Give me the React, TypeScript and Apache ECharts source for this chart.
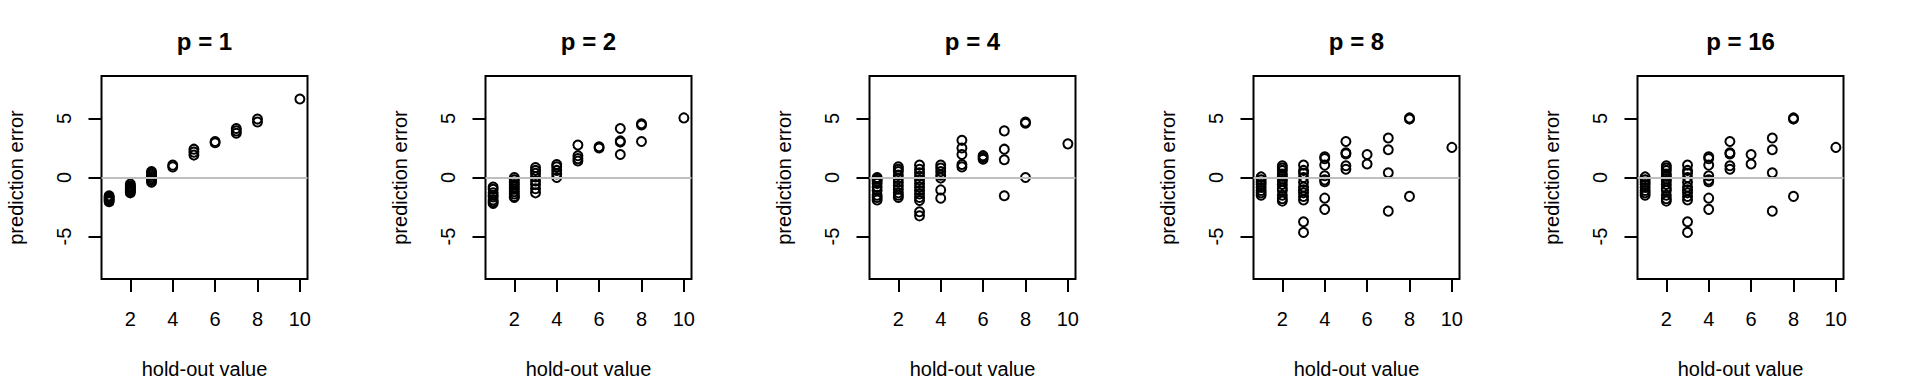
import React, { useEffect, useRef } from "react";
import * as echarts from "echarts";

const panelTitles = ["p = 1", "p = 2", "p = 4", "p = 8", "p = 16"];
const xTicks = [2, 4, 6, 8, 10];
const yTicks = [-5, 0, 5];
const xLabel = "hold-out value";
const yLabel = "prediction error";

// [hold-out value, prediction error]
const p1Points: [number, number][] = [
  [1, -1.55], [1, -1.65], [1, -1.75], [1, -1.85], [1, -1.95], [1, -2.05],
  [2, -0.55], [2, -0.7], [2, -0.8], [2, -0.9], [2, -1.0], [2, -1.1], [2, -1.2], [2, -1.3],
  [3, 0.5], [3, 0.35], [3, 0.2], [3, 0.05], [3, -0.1], [3, -0.25], [3, -0.4],
  [4, 1.05], [4, 0.9],
  [5, 2.4], [5, 2.15], [5, 1.9],
  [6, 3.05], [6, 2.95],
  [7, 4.15], [7, 3.95], [7, 3.75],
  [8, 4.95], [8, 4.7],
  [10, 6.65],
];

const p2Points: [number, number][] = [
  [1, -0.8], [1, -1.0], [1, -1.3], [1, -1.5], [1, -1.65], [1, -1.9], [1, -2.05], [1, -2.2],
  [2, 0.0], [2, -0.2], [2, -0.4], [2, -0.6], [2, -0.8], [2, -1.0], [2, -1.2], [2, -1.4], [2, -1.6], [2, -1.7],
  [3, 0.85], [3, 0.6], [3, 0.35], [3, 0.05], [3, -0.3], [3, -0.6], [3, -0.95], [3, -1.3],
  [4, 1.1], [4, 0.9], [4, 0.6], [4, 0.3], [4, 0.0],
  [5, 2.75], [5, 1.85], [5, 1.6], [5, 1.4],
  [6, 2.6], [6, 2.5],
  [7, 4.15], [7, 3.1], [7, 3.0], [7, 1.95],
  [8, 4.55], [8, 4.45], [8, 3.05],
  [10, 5.05],
];

const p4Points: [number, number][] = [
  [1, 0.0], [1, -0.15], [1, -0.3], [1, -0.5], [1, -0.8], [1, -1.1], [1, -1.5], [1, -1.7], [1, -1.9],
  [2, 0.9], [2, 0.7], [2, 0.5], [2, 0.2], [2, -0.1], [2, -0.4], [2, -0.7], [2, -1.0], [2, -1.3], [2, -1.5], [2, -1.7],
  [3, 1.05], [3, 0.7], [3, 0.4], [3, 0.1], [3, -0.2], [3, -0.5], [3, -0.8], [3, -1.1], [3, -1.4], [3, -1.7], [3, -1.95], [3, -2.9], [3, -3.25],
  [4, 1.05], [4, 0.8], [4, 0.5], [4, 0.2], [4, -0.05], [4, -1.05], [4, -1.75],
  [5, 3.15], [5, 2.5], [5, 1.95], [5, 1.1], [5, 0.9],
  [6, 1.85], [6, 1.7], [6, 1.55],
  [7, 3.95], [7, 2.4], [7, 1.5], [7, -1.55],
  [8, 4.7], [8, 4.6], [8, 0.0],
  [10, 2.85],
];

const p8Points: [number, number][] = [
  [1, 0.05], [1, -0.2], [1, -0.4], [1, -0.6], [1, -0.85], [1, -1.1], [1, -1.3], [1, -1.5],
  [2, 1.0], [2, 0.8], [2, 0.6], [2, 0.3], [2, 0.1], [2, -0.1], [2, -0.3], [2, -0.6], [2, -0.9], [2, -1.1], [2, -1.5], [2, -1.8], [2, -2.0],
  [3, 1.05], [3, 0.6], [3, 0.35], [3, 0.0], [3, -0.4], [3, -0.8], [3, -1.05], [3, -1.3], [3, -1.6], [3, -1.9], [3, -3.75], [3, -4.65],
  [4, 1.75], [4, 1.6], [4, 1.05], [4, 0.15], [4, -0.2], [4, -0.35], [4, -1.75], [4, -2.7],
  [5, 3.05], [5, 2.1], [5, 2.0], [5, 1.0], [5, 0.7],
  [6, 1.95], [6, 1.15],
  [7, 3.35], [7, 2.35], [7, 0.4], [7, -2.85],
  [8, 5.05], [8, 4.95], [8, -1.6],
  [10, 2.55],
];

const p16Points: [number, number][] = [
  [1, 0.05], [1, -0.2], [1, -0.4], [1, -0.6], [1, -0.85], [1, -1.1], [1, -1.3], [1, -1.5],
  [2, 1.0], [2, 0.8], [2, 0.6], [2, 0.3], [2, 0.1], [2, -0.1], [2, -0.3], [2, -0.6], [2, -0.9], [2, -1.1], [2, -1.5], [2, -1.8], [2, -2.0],
  [3, 1.05], [3, 0.6], [3, 0.35], [3, 0.0], [3, -0.4], [3, -0.8], [3, -1.05], [3, -1.3], [3, -1.6], [3, -1.9], [3, -3.75], [3, -4.65],
  [4, 1.75], [4, 1.6], [4, 1.05], [4, 0.15], [4, -0.2], [4, -0.35], [4, -1.75], [4, -2.7],
  [5, 3.05], [5, 2.1], [5, 2.0], [5, 1.0], [5, 0.7],
  [6, 1.95], [6, 1.15],
  [7, 3.35], [7, 2.35], [7, 0.4], [7, -2.85],
  [8, 5.05], [8, 4.95], [8, -1.6],
  [10, 2.55],
];

const panels = [p1Points, p2Points, p4Points, p8Points, p16Points];

const FONT = "'Liberation Sans', Arial, Helvetica, sans-serif";
const PANEL_W = 384;
const GRID_LEFT = 101.5;
const GRID_TOP = 76;
const GRID_W = 206;
const GRID_H = 206.5;

export default function App() {
  const ref = useRef<HTMLDivElement>(null);

  useEffect(() => {
    if (!ref.current) return;
    const chart = echarts.init(ref.current, undefined, { renderer: "svg" });

    const grid: any[] = [];
    const xAxis: any[] = [];
    const yAxis: any[] = [];
    const series: any[] = [];
    const graphic: any[] = [];

    panels.forEach((pts, i) => {
      const left = i * PANEL_W + GRID_LEFT;
      grid.push({
        left,
        top: GRID_TOP,
        width: GRID_W,
        height: GRID_H,
        show: true,
        borderColor: "#000",
        borderWidth: 2,
        backgroundColor: "transparent",
        containLabel: false,
      });
      xAxis.push({
        type: "value",
        gridIndex: i,
        position: "bottom",
        min: 0.64,
        max: 10.36,
        name: xLabel,
        nameLocation: "middle",
        nameGap: 80,
        nameTextStyle: { fontFamily: FONT, fontSize: 20, color: "#000" },
        axisLine: { show: false, onZero: false },
        splitLine: { show: false },
        axisTick: {
          show: true,
          inside: false,
          length: 13,
          lineStyle: { color: "#000", width: 2 },
          customValues: xTicks,
        },
        axisLabel: {
          show: true,
          margin: 30,
          fontFamily: FONT,
          fontSize: 20,
          color: "#000",
          customValues: xTicks,
        },
      });
      yAxis.push({
        type: "value",
        gridIndex: i,
        position: "left",
        min: -8.6,
        max: 8.6,
        name: yLabel,
        nameLocation: "middle",
        nameGap: 76,
        nameRotate: 90,
        nameTextStyle: { fontFamily: FONT, fontSize: 20, color: "#000" },
        axisLine: { show: false, onZero: false },
        splitLine: { show: false },
        axisTick: {
          show: true,
          inside: false,
          length: 13,
          lineStyle: { color: "#000", width: 2 },
          customValues: yTicks,
        },
        axisLabel: {
          show: true,
          rotate: 90,
          margin: 28,
          fontFamily: FONT,
          fontSize: 20,
          color: "#000",
          customValues: yTicks,
        },
      });
      series.push({
        type: "scatter",
        xAxisIndex: i,
        yAxisIndex: i,
        data: pts,
        symbol: "circle",
        symbolSize: 9,
        itemStyle: { color: "rgba(0,0,0,0)", borderColor: "#000", borderWidth: 2, opacity: 1 },
        emphasis: { disabled: true },
        markLine: {
          silent: true,
          symbol: ["none", "none"],
          label: { show: false },
          lineStyle: { color: "#bebebe", width: 2, type: "solid" },
          data: [{ yAxis: 0 }],
          animation: false,
        },
      });
      graphic.push({
        type: "text",
        x: left + GRID_W / 2,
        y: 41,
        style: {
          text: panelTitles[i],
          fontFamily: FONT,
          fontSize: 24,
          fontWeight: "bold",
          fill: "#000",
          textAlign: "center",
          textVerticalAlign: "middle",
        },
      });
    });

    chart.setOption({
      animation: false,
      backgroundColor: "#fff",
      grid,
      xAxis,
      yAxis,
      series,
      graphic,
    });

    return () => chart.dispose();
  }, []);

  return (
    <div
      ref={ref}
      style={{ position: "absolute", left: 0, top: 0, width: 1920, height: 384 }}
    />
  );
}
